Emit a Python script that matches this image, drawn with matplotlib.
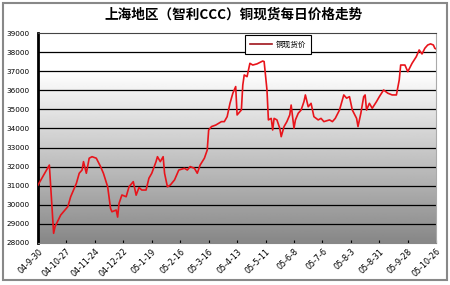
import numpy as np
import matplotlib
matplotlib.use("Agg")
import matplotlib.pyplot as plt
from matplotlib.patches import Rectangle

plt.rcParams['font.family'] = ['Noto Sans CJK SC', 'DejaVu Sans']

# trading-day index and daily spot price (yuan/t)
day = [0, 8, 11, 12, 16, 19, 21, 23, 27, 29, 31, 32, 34, 36, 38, 41, 44, 46, 49, 51,
       52, 55, 56, 57, 59, 62, 64, 67, 69, 71, 73, 76, 78, 80, 83, 84, 86, 88, 89, 91,
       93, 96, 99, 103, 105, 107, 110, 112, 114, 117, 119, 120, 122, 125, 129, 131, 133, 135, 137, 139,
       140, 143, 144, 145, 147, 149, 151, 154, 158, 159, 161, 162, 164, 165, 166, 168, 170, 171, 173, 175,
       177, 178, 180, 181, 183, 185, 187, 188, 190, 192, 194, 197, 199, 201, 205, 207, 209, 212, 213, 215,
       217, 219, 221, 224, 225, 227, 229, 230, 231, 233, 235, 238, 240, 243, 246, 249, 252, 254, 255, 258,
       260, 263, 266, 268, 270, 272, 274, 276, 278, 279, 280]
price = [31030, 32080, 28500, 28850, 29460, 29720, 29900, 30420, 31120, 31650, 31820, 32260, 31650, 32440, 32520, 32440, 32000, 31650, 30940, 29810,
         29630, 29720, 29350, 30070, 30510, 30420, 30940, 31210, 30500, 30900, 30770, 30770, 31390, 31650, 32260, 32520, 32260, 32520, 31650, 30940,
         31030, 31300, 31820, 31910, 31820, 32000, 31910, 31650, 32080, 32440, 32870, 33920, 34100, 34180, 34360, 34360, 34620, 35320, 35850, 36200,
         34710, 34970, 36280, 36810, 36720, 37420, 37330, 37390, 37540, 37510, 36020, 34450, 34530, 33920, 34530, 34450, 34010, 33570, 34100, 34360,
         34710, 35230, 34010, 34450, 34800, 34970, 35410, 35760, 35140, 35320, 34620, 34450, 34530, 34360, 34450, 34360, 34530, 34970, 35230, 35760,
         35590, 35670, 34970, 34530, 34100, 34800, 35670, 35760, 34970, 35320, 35060, 35410, 35670, 36020, 35850, 35760, 35760, 36550, 37330, 37330,
         36980, 37420, 37770, 38120, 37910, 38210, 38380, 38440, 38380, 38210, 38170]

tick_labels = ["04-9-30", "04-10-27", "04-11-24", "04-12-22", "05-1-19", "05-2-16", "05-3-16",
               "05-4-13", "05-5-11", "05-6-8", "05-7-6", "05-8-3", "05-8-31", "05-9-28", "05-10-26"]
y_ticks = list(range(28000, 39001, 1000))

fig = plt.figure(figsize=(4.5, 2.85), dpi=100)
ax = fig.add_axes([0.0844, 0.148, 0.885, 0.7355])

# grey gradient background: white above ~37000, darker towards the bottom
levels = np.linspace(28000, 39000, 256)
shade = np.clip(0.53 + (levels - 28000) / 9000 * 0.47, 0.53, 1.0)[:, None]
ax.imshow(shade, cmap="gray", vmin=0, vmax=1, aspect="auto", origin="lower",
          extent=[0, 280, 28000, 39000], zorder=0)

for yv in y_ticks[1:-1]:
    ax.axhline(yv, color="black", lw=0.9, zorder=1)

ax.plot(day, price, color="#e8141b", lw=1.2, zorder=3, label="铜现货价")

ax.set_xlim(0, 280)
ax.set_ylim(28000, 39000)
ax.set_yticks(y_ticks)
ax.set_yticklabels([str(v) for v in y_ticks], fontsize=5.2, family="DejaVu Sans")
ax.set_xticks(range(0, 281, 20))
ax.set_xticklabels(tick_labels, fontsize=5.8, rotation=45, ha="right",
                   rotation_mode="anchor", family="DejaVu Sans")
ax.tick_params(axis="y", length=0, pad=6)
ax.tick_params(axis="x", length=2, pad=3, direction="in")
ax.spines["left"].set_linewidth(2)
ax.spines["bottom"].set_color("#888888")
ax.spines["right"].set_color("#aaaaaa")
ax.spines["top"].set_color("#444444")
ax.spines["top"].set_linewidth(0.8)

leg = ax.legend(loc="upper left", bbox_to_anchor=(0.51, 1.01), fontsize=5.5,
                frameon=True, fancybox=False, handlelength=2.8, borderpad=0.7,
                handletextpad=0.5)
leg.get_frame().set_edgecolor("black")
leg.get_frame().set_linewidth(0.8)
leg.get_frame().set_facecolor("white")
leg.get_frame().set_alpha(1)
leg.get_lines()[0].set_color("#a0141b")

fig.text(0.52, 0.948, "上海地区（智利CCC）铜现货每日价格走势", ha="center", va="center",
         fontsize=9.8, fontweight="bold")

fig.patches.append(Rectangle((0.007, 0.018), 0.986, 0.972, transform=fig.transFigure,
                             fill=False, edgecolor="#888888", lw=1.5))

fig.savefig("out.png", dpi=100)
